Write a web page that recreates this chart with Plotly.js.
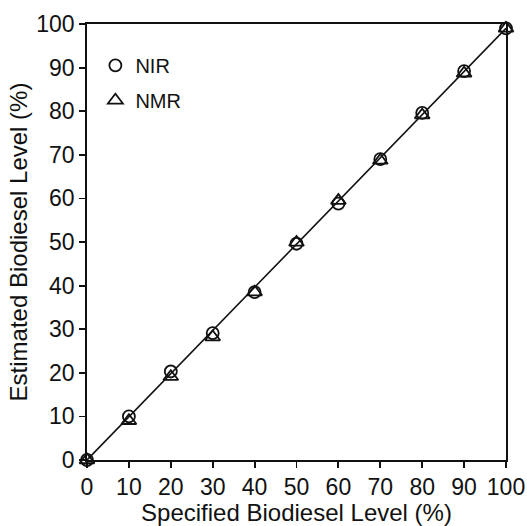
<!DOCTYPE html>
<html>
<head>
<meta charset="utf-8">
<script src="https://cdn.plot.ly/plotly-3.0.1.min.js"></script>
<style>html,body{margin:0;padding:0;background:#fff;}#chart{width:527px;height:526px;}</style>
</head>
<body>
<div id="chart"></div>
<script>
// Data
const specified = [0, 10, 20, 30, 40, 50, 60, 70, 80, 90, 100];
const nirValues = [0, 10, 20.3, 29.1, 38.5, 49.6, 58.8, 69, 79.6, 89.2, 99];
const nmrValues = [0, 9, 19.1, 28.2, 38.5, 49.9, 59.5, 68.7, 79.1, 88.7, 99];
const fitX = [0, 100];
const fitY = [0, 99];
const tickVals = [0, 10, 20, 30, 40, 50, 60, 70, 80, 90, 100];

const font = {family: 'Liberation Sans, Arial, sans-serif', color: '#111'};

const traces = [
  {x: fitX, y: fitY, mode: 'lines', line: {color: '#111', width: 1.6}, showlegend: false, hoverinfo: 'skip'},
  {x: specified, y: nirValues, name: 'NIR', legendgroup: 'a', mode: 'markers', cliponaxis: false,
   marker: {symbol: 'circle-open', size: 12, color: '#111', line: {width: 1.8, color: '#111'}}},
  {x: specified, y: nmrValues, name: 'NMR', legendgroup: 'b', mode: 'markers', cliponaxis: false,
   marker: {symbol: 'triangle-up-open', size: 13, color: '#111', line: {width: 1.8, color: '#111'}}}
];

const axisCommon = {
  range: [0, 100], tickvals: tickVals, ticks: 'outside', ticklen: 6, tickwidth: 1.8, tickcolor: '#111',
  showline: true, linecolor: '#111', linewidth: 1.8, mirror: true, showgrid: false, zeroline: false,
  tickfont: Object.assign({size: 23}, font), fixedrange: true
};

const layout = {
  width: 527, height: 526,
  margin: {l: 87, r: 21, t: 24, b: 66},
  paper_bgcolor: '#fff', plot_bgcolor: '#fff',
  font: font,
  xaxis: Object.assign({}, axisCommon, {title: {text: 'Specified Biodiesel Level (%)', font: Object.assign({size: 24}, font), standoff: 2}}),
  yaxis: Object.assign({}, axisCommon, {title: {text: 'Estimated Biodiesel Level (%)', font: Object.assign({size: 24}, font), standoff: 2}}),
  showlegend: true,
  legend: {x: 0.02, y: 0.95, xanchor: 'left', yanchor: 'top', bgcolor: 'rgba(0,0,0,0)', borderwidth: 0,
           font: Object.assign({size: 20}, font), tracegroupgap: 6, itemwidth: 30}
};

Plotly.newPlot('chart', traces, layout, {staticPlot: true, displayModeBar: false});
</script>
</body>
</html>
